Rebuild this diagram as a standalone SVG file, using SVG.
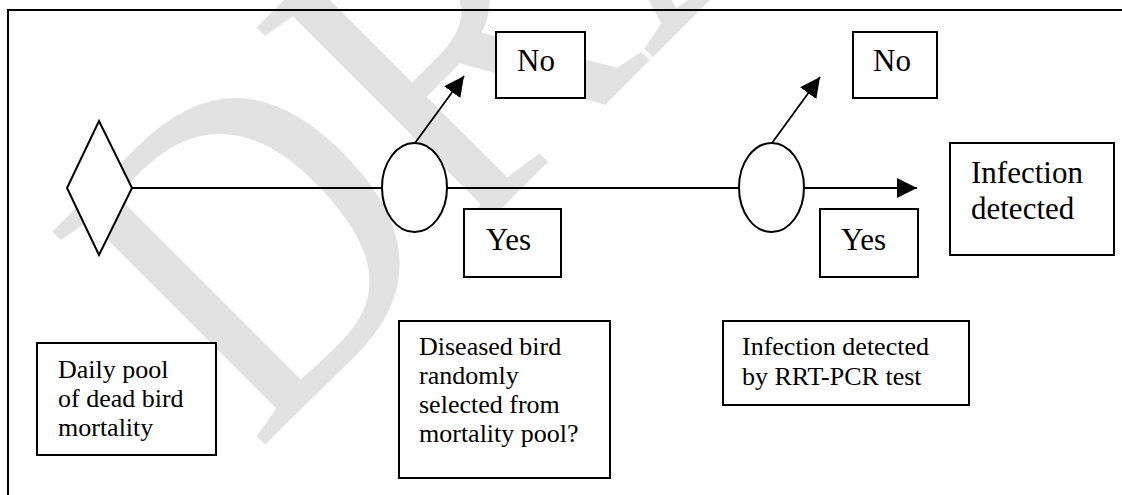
<svg xmlns="http://www.w3.org/2000/svg" width="1122" height="495" viewBox="0 0 1122 495">
<style>
.box{fill:#fff;stroke:#000;stroke-width:2}
.shape{fill:#fff;stroke:#000;stroke-width:2}
.conn{fill:none;stroke:#000;stroke-width:1.8}
.big{font-family:"Liberation Serif","Times New Roman",serif;font-size:31px;fill:#000}
.small{font-family:"Liberation Serif","Times New Roman",serif;font-size:26px;fill:#000}
.wm{font-family:"Liberation Serif","Times New Roman",serif;font-size:460px;fill:#e2e2e2}
</style>
<defs>
<marker id="ah" markerUnits="userSpaceOnUse" markerWidth="20" markerHeight="20" refX="20" refY="10" orient="auto">
<path d="M0,0 L20,10 L0,20 z" fill="#000"/>
</marker>
</defs>
<rect width="1122" height="495" fill="#fff"/>
<text class="wm" transform="translate(257,453) rotate(-45) scale(0.87,1)">DRAFT</text>
<path d="M8,495 V10 H1122" fill="none" stroke="#000" stroke-width="2"/>
<g id="connectors">
<line class="conn" x1="132" y1="188" x2="382" y2="188"/>
<line class="conn" x1="447" y1="188" x2="739" y2="188"/>
<line class="conn" x1="415" y1="143" x2="464" y2="76" marker-end="url(#ah)"/>
<line class="conn" x1="772" y1="143" x2="820" y2="77" marker-end="url(#ah)"/>
<line class="conn" x1="804" y1="188" x2="917" y2="188" marker-end="url(#ah)"/>
</g>
<g id="start-diamond"><polygon class="shape" points="99,121 132,188 99,255 67,188"/></g>
<g id="decision1"><ellipse class="shape" cx="414.5" cy="187.5" rx="32.5" ry="44.5"/></g>
<g id="decision2"><ellipse class="shape" cx="771.5" cy="187.5" rx="32.5" ry="44.5"/></g>
<g id="no1"><rect class="box" x="496" y="32" width="89" height="66"/><text class="big" x="517" y="71">No</text></g>
<g id="no2"><rect class="box" x="853" y="32" width="84" height="66"/><text class="big" x="873" y="71">No</text></g>
<g id="yes1"><rect class="box" x="464" y="209" width="97" height="68"/><text class="big" x="486" y="250">Yes</text></g>
<g id="yes2"><rect class="box" x="820" y="209" width="98" height="68"/><text class="big" x="841" y="250">Yes</text></g>
<g id="infection"><rect class="box" x="950" y="143" width="164" height="112"/><text class="big" x="971" y="183">Infection</text><text class="big" x="971" y="219">detected</text></g>
<g id="daily-pool"><rect class="box" x="37" y="343" width="179" height="112"/><text class="small"><tspan x="58" y="378">Daily pool</tspan><tspan x="58" y="407">of dead bird</tspan><tspan x="58" y="436">mortality</tspan></text></g>
<g id="diseased"><rect class="box" x="399" y="321" width="211" height="157"/><text class="small"><tspan x="419" y="355">Diseased bird</tspan><tspan x="419" y="384">randomly</tspan><tspan x="419" y="413">selected from</tspan><tspan x="419" y="442">mortality pool?</tspan></text></g>
<g id="rrt"><rect class="box" x="723" y="321" width="246" height="84"/><text class="small"><tspan x="742" y="355">Infection detected</tspan><tspan x="742" y="385">by RRT-PCR test</tspan></text></g>
</svg>
